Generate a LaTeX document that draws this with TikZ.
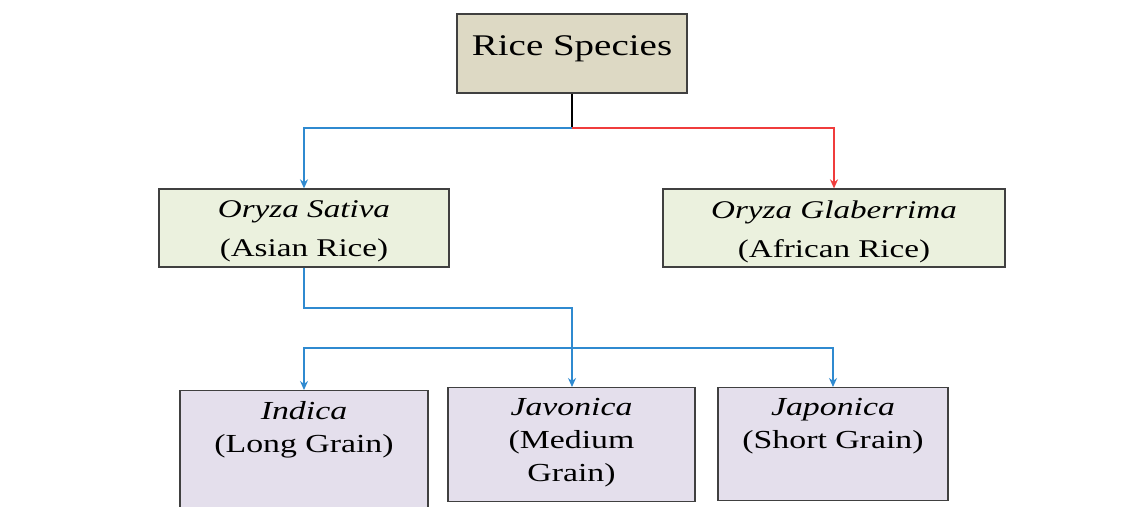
\documentclass[tikz,border=0pt]{standalone}
\usepackage{fontspec}
\setmainfont[FakeStretch=1.3]{Liberation Serif}
\usetikzlibrary{arrows.meta}
\definecolor{rootfill}{HTML}{DDD9C4}
\definecolor{midfill}{HTML}{EBF1DE}
\definecolor{lowfill}{HTML}{E4DFEC}
\definecolor{boxline}{HTML}{404040}
\definecolor{blueline}{HTML}{2F8AD0}
\definecolor{redline}{HTML}{F03C3C}
\tikzset{
  box/.style={draw=boxline, line width=1.3pt, inner sep=0pt, align=center},
  rootbox/.style={box, fill=rootfill, font=\fontsize{30}{34}\selectfont},
  midbox/.style={box, fill=midfill, font=\fontsize{25.5}{39}\selectfont},
  lowbox/.style={box, fill=lowfill, font=\fontsize{26}{33}\selectfont},
  conn/.style={line width=1.3pt},
  arr/.style={conn, -{Stealth[length=9pt,width=8pt]}}
}
\begin{document}
\begin{tikzpicture}[x=1pt,y=-1pt]
\useasboundingbox (0,0) rectangle (1140,506);
\clip (0,0) rectangle (1140,506);
\fill[white] (0,0) rectangle (1140,506);
\node[rootbox] (root) at (572,53.5)
  {\parbox[c][79pt][c]{230pt}{\centering\vspace{-10pt}Rice Species}};
\node[midbox] (sativa) at (304,228)
  {\parbox[c][78pt][t]{290pt}{\centering\vspace{12pt}\textit{Oryza Sativa}\\(Asian Rice)}};
\node[midbox] (glab) at (834,228)
  {\parbox[c][78pt][t]{342pt}{\centering\vspace{12pt}\textit{Oryza Glaberrima}\\(African Rice)}};
\node[lowbox, anchor=north] (indica) at (304,390)
  {\parbox[c][135pt][t]{248pt}{\centering\vspace{11pt}\textit{Indica}\\(Long Grain)}};
\node[lowbox, anchor=north] (javonica) at (571.5,387)
  {\parbox[c][114pt][t]{247pt}{\centering\vspace{11pt}\textit{Javonica}\\(Medium\\Grain)}};
\node[lowbox, anchor=north] (japonica) at (833,387)
  {\parbox[c][113pt][t]{230pt}{\centering\vspace{11pt}\textit{Japonica}\\(Short Grain)}};
\coordinate (split) at (root.south |- 0,128);
\coordinate (turn) at (root.south |- 0,308);
\coordinate (low) at (root.south |- 0,348);
\draw[conn] (root.south) -- (split);
\draw[arr, blueline] (split) -| (sativa.north);
\draw[arr, redline] (split) -| (glab.north);
\draw[arr, blueline] (sativa.south) |- (turn) -- (turn |- javonica.north);
\draw[arr, blueline] (low) -| (indica.north);
\draw[arr, blueline] (low) -| (japonica.north);
\end{tikzpicture}
\end{document}
